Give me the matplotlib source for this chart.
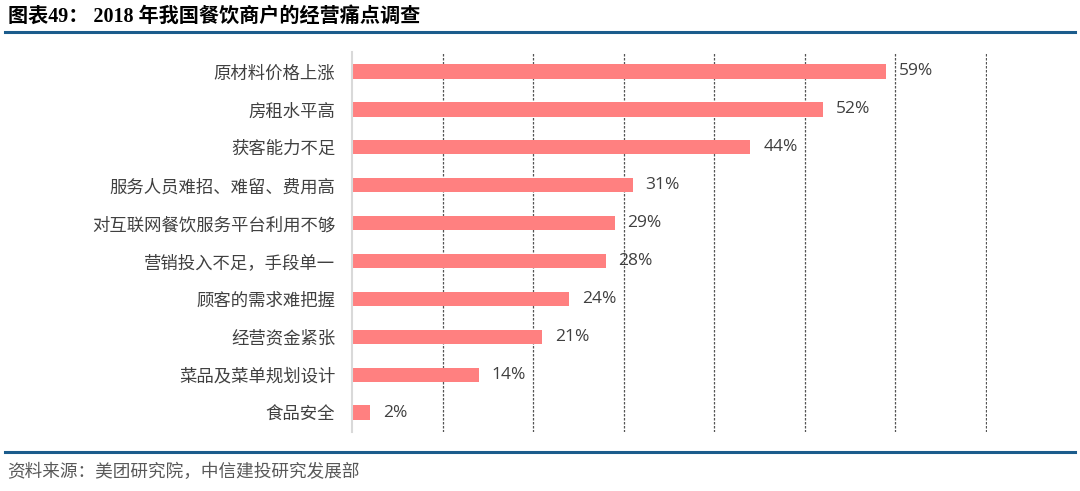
import matplotlib.pyplot as plt
from matplotlib.lines import Line2D

plt.rcParams['font.family'] = ['Noto Sans CJK SC', 'DejaVu Sans']

categories = ['原材料价格上涨', '房租水平高', '获客能力不足', '服务人员难招、难留、费用高',
              '对互联网餐饮服务平台利用不够', '营销投入不足，手段单一', '顾客的需求难把握',
              '经营资金紧张', '菜品及菜单规划设计', '食品安全']
values = [0.59, 0.52, 0.44, 0.31, 0.29, 0.28, 0.24, 0.21, 0.14, 0.02]
xticks = [0.1, 0.2, 0.3, 0.4, 0.5, 0.6, 0.7]

title = '图表49： 2018 年我国餐饮商户的经营痛点调查'
source = '资料来源：美团研究院，中信建投研究发展部'

fig = plt.figure(figsize=(10.8, 4.91), dpi=100)
ax = fig.add_axes([0.3259, 0.1210, 0.5880, 0.7721])

pos = list(range(len(categories)))
ax.barh(pos, values, height=0.38, color='#FF8080', zorder=3)
for y, v in zip(pos, values):
    ax.text(v + 0.014, y, f'{v*100:.0f}%', va='center', ha='left',
            fontsize=12.5, color='#404040', zorder=4,
            family=['Open Sans', 'DejaVu Sans'])

ax.set_xlim(0, 0.7012)
ax.set_ylim(len(categories) - 0.5, -0.5)
ax.set_yticks(pos)
ax.set_yticklabels(categories, fontsize=12.5, color='#404040')
ax.tick_params(axis='y', length=0, pad=12)
ax.set_xticks(xticks)
ax.tick_params(axis='x', length=0, labelbottom=False)
ax.grid(axis='x', linestyle=(0, (2, 1.2)), color='#555555', linewidth=0.9, zorder=0)
for s in ['top', 'right', 'bottom']:
    ax.spines[s].set_visible(False)
ax.spines['left'].set_color('#D9D9D9')
ax.spines['left'].set_linewidth(1.5)
ax.spines['left'].set_zorder(5)

fig.text(0.007, 0.965, title, fontsize=14.5, fontweight='bold', color='black',
         family=['Liberation Serif', 'Noto Sans CJK SC'], va='center', ha='left')
fig.add_artist(Line2D([0.005, 0.995], [0.934, 0.934], color='#1B5C8C', linewidth=2.2,
                      transform=fig.transFigure))
fig.add_artist(Line2D([0.005, 0.995], [0.080, 0.080], color='#1B5C8C', linewidth=2.2,
                      transform=fig.transFigure))
fig.text(0.007, 0.038, source, fontsize=12.7, color='#595959', style='italic',
         va='center', ha='left')

fig.savefig('out.png', dpi=100)
